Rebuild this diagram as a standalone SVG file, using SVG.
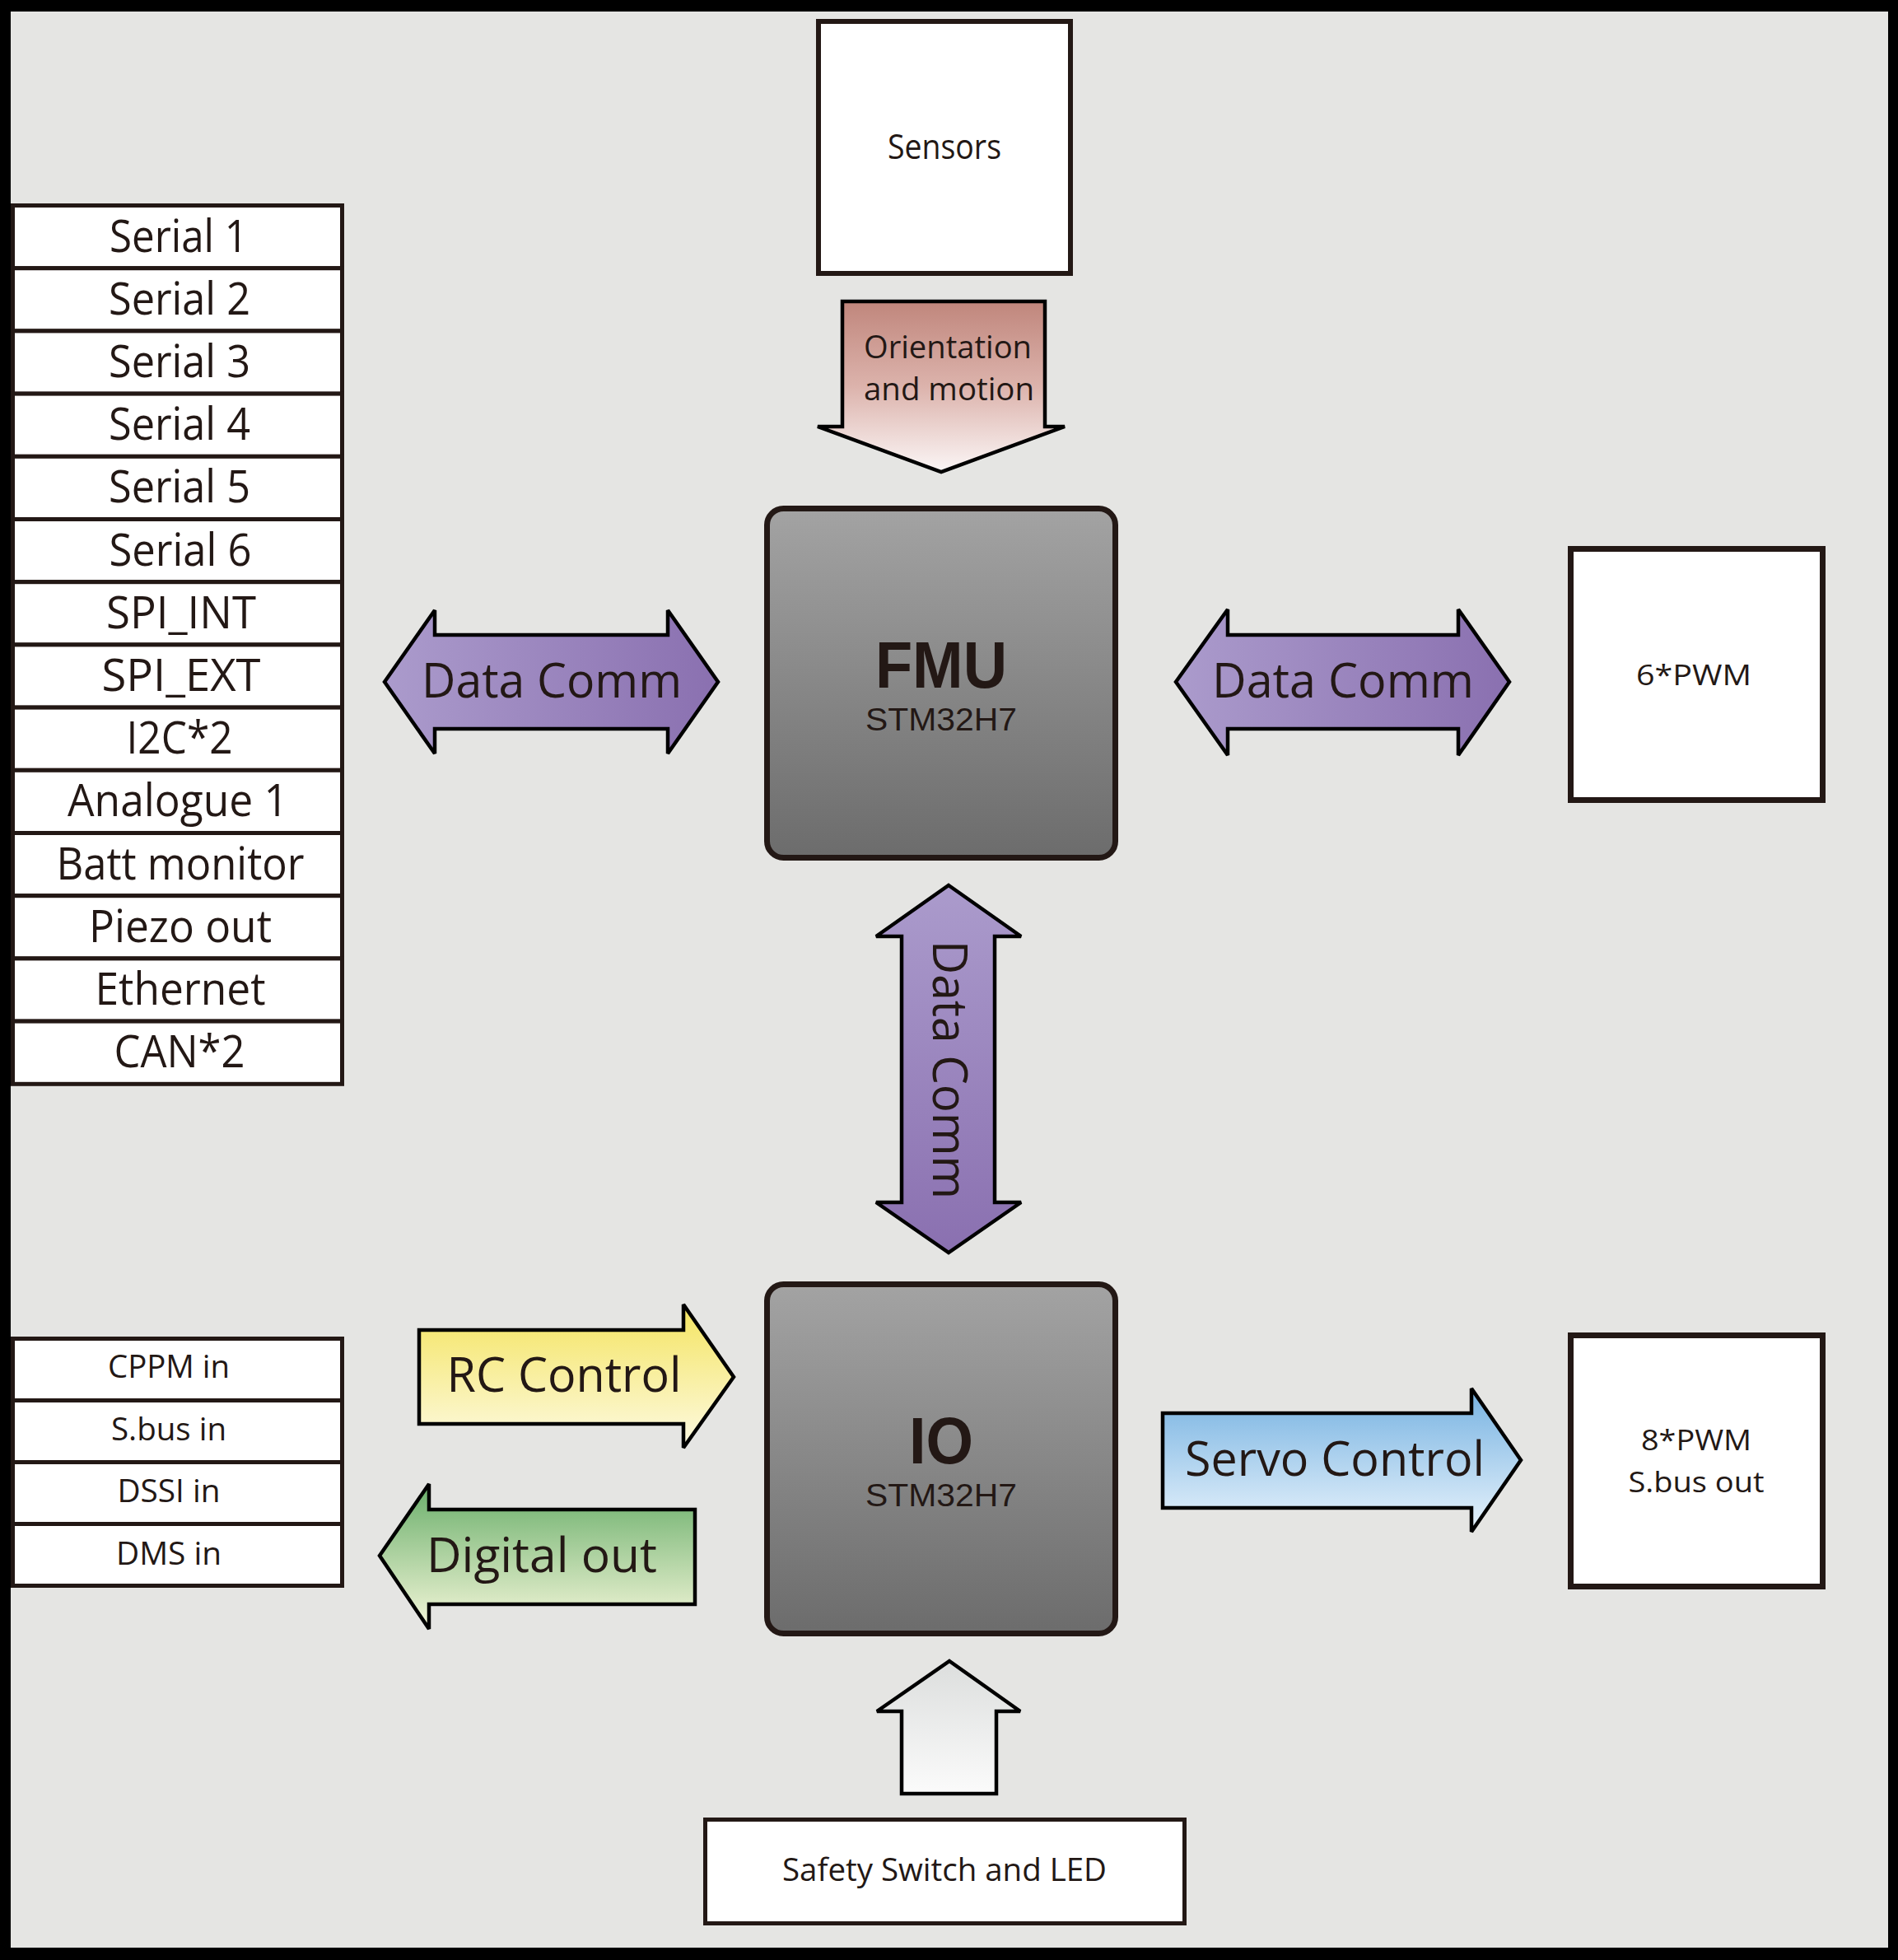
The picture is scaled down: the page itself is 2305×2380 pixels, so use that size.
<svg xmlns="http://www.w3.org/2000/svg" width="2305" height="2380" viewBox="0 0 2305 2380">
<style>
.t{font-family:"Open Sans","Noto Sans","Liberation Sans",sans-serif;fill:#231815;text-anchor:middle}
.tc{font-family:"Liberation Sans","Open Sans",sans-serif;fill:#231815;text-anchor:middle}
.box{fill:#ffffff;stroke:#231815}
.arr{stroke:#000000;stroke-width:4.5;stroke-linejoin:miter;stroke-miterlimit:2.5}
.chip{stroke:#231815;stroke-width:7}
</style>
<defs>
<linearGradient id="gOri" x1="0" y1="0" x2="0" y2="1"><stop offset="0" stop-color="#c0867c"/><stop offset="0.5" stop-color="#dcb3ac"/><stop offset="1" stop-color="#fbf6f6"/></linearGradient>
<linearGradient id="gPurH" x1="0" y1="0" x2="1" y2="0"><stop offset="0" stop-color="#ab9bcc"/><stop offset="1" stop-color="#8a70b0"/></linearGradient>
<linearGradient id="gPurV" x1="0" y1="0" x2="0" y2="1"><stop offset="0" stop-color="#ab9bcc"/><stop offset="1" stop-color="#8a70b0"/></linearGradient>
<linearGradient id="gYel" x1="0" y1="0" x2="0" y2="1"><stop offset="0" stop-color="#f4e460"/><stop offset="1" stop-color="#fdfae2"/></linearGradient>
<linearGradient id="gGrn" x1="0" y1="0" x2="0" y2="1"><stop offset="0" stop-color="#69ae6a"/><stop offset="1" stop-color="#f5f7da"/></linearGradient>
<linearGradient id="gBlu" x1="0" y1="0" x2="0" y2="1"><stop offset="0" stop-color="#76b2e1"/><stop offset="1" stop-color="#e8f3fc"/></linearGradient>
<linearGradient id="gGry" x1="0" y1="0" x2="0" y2="1"><stop offset="0" stop-color="#dcdedd"/><stop offset="1" stop-color="#fbfbfb"/></linearGradient>
<linearGradient id="gChip" x1="0" y1="0" x2="0" y2="1"><stop offset="0" stop-color="#a3a3a3"/><stop offset="1" stop-color="#6c6c6c"/></linearGradient>
</defs>
<rect x="0" y="0" width="2305" height="2380" fill="#000000"/>
<rect x="13" y="14" width="2280" height="2351" fill="#e5e5e3"/>

<g id="connectors">
<g id="arrow-orientation">
<polygon class="arr" fill="url(#gOri)" points="1023,366 1269,366 1269,518 1293,518 1143,573 993,518 1023,518"/>
<text class="t" style="text-anchor:start" x="1049" y="435" font-size="39" textLength="204" lengthAdjust="spacingAndGlyphs">Orientation</text>
<text class="t" style="text-anchor:start" x="1049" y="486" font-size="39" textLength="207" lengthAdjust="spacingAndGlyphs">and motion</text>
</g>
<g id="arrow-datacomm-left">
<polygon class="arr" fill="url(#gPurH)" points="467,828 528,741 528,771 811,771 811,741 872,828 811,915 811,885 528,885 528,915"/>
<text class="t" x="670" y="847" font-size="59" textLength="316" lengthAdjust="spacingAndGlyphs">Data Comm</text>
</g>
<g id="arrow-datacomm-right">
<polygon class="arr" fill="url(#gPurH)" points="1428,828 1491,740 1491,771 1771,771 1771,740 1833,828 1771,917 1771,885 1491,885 1491,917"/>
<text class="t" x="1631" y="847" font-size="59" textLength="318" lengthAdjust="spacingAndGlyphs">Data Comm</text>
</g>
<g id="arrow-datacomm-vertical">
<polygon class="arr" fill="url(#gPurV)" points="1152,1075 1240,1137 1208,1137 1208,1460 1240,1460 1152,1521 1064,1460 1095,1460 1095,1137 1064,1137"/>
<text class="t" transform="translate(1133,1299) rotate(90)" x="0" y="0" font-size="59" textLength="314" lengthAdjust="spacingAndGlyphs">Data Comm</text>
</g>
<g id="arrow-rc">
<polygon class="arr" fill="url(#gYel)" points="509,1615 830,1615 830,1584 891,1672 830,1758 830,1729 509,1729"/>
<text class="t" x="685" y="1690" font-size="59" textLength="285" lengthAdjust="spacingAndGlyphs">RC Control</text>
</g>
<g id="arrow-digital">
<polygon class="arr" fill="url(#gGrn)" points="461,1889 521,1802 521,1833 844,1833 844,1948 521,1948 521,1978"/>
<text class="t" x="658" y="1909" font-size="59" textLength="280" lengthAdjust="spacingAndGlyphs">Digital out</text>
</g>
<g id="arrow-servo">
<polygon class="arr" fill="url(#gBlu)" points="1412,1716 1787,1716 1787,1686 1847,1773 1787,1860 1787,1831 1412,1831"/>
<text class="t" x="1621" y="1792" font-size="59" textLength="364" lengthAdjust="spacingAndGlyphs">Servo Control</text>
</g>
<g id="arrow-safety">
<polygon class="arr" fill="url(#gGry)" points="1153,2017 1239,2078 1210,2078 1210,2178 1095,2178 1095,2078 1065,2078"/>
</g>
</g>

<g id="sensors">
<rect class="box" stroke-width="6" x="994" y="26" width="306" height="306"/>
<text class="t" x="1147" y="193" font-size="42" textLength="138" lengthAdjust="spacingAndGlyphs">Sensors</text>
</g>

<g id="fmu">
<rect class="chip" fill="url(#gChip)" x="931.5" y="617.5" width="423" height="424" rx="20"/>
<text class="tc" x="1143" y="835" font-size="80" font-weight="bold" textLength="160" lengthAdjust="spacingAndGlyphs">FMU</text>
<text class="tc" x="1143" y="887" font-size="39" textLength="184" lengthAdjust="spacingAndGlyphs">STM32H7</text>
</g>

<g id="io">
<rect class="chip" fill="url(#gChip)" x="931.5" y="1559.5" width="423" height="424" rx="20"/>
<text class="tc" x="1143" y="1777" font-size="80" font-weight="bold" textLength="78" lengthAdjust="spacingAndGlyphs">IO</text>
<text class="tc" x="1143" y="1829" font-size="39" textLength="184" lengthAdjust="spacingAndGlyphs">STM32H7</text>
</g>

<g id="pwm6">
<rect class="box" stroke-width="7" x="1907.5" y="666.5" width="306" height="305"/>
<text class="t" x="2057" y="832" font-size="34" textLength="140" lengthAdjust="spacingAndGlyphs">6*PWM</text>
</g>

<g id="pwm8">
<rect class="box" stroke-width="7" x="1907.5" y="1621.5" width="306" height="305"/>
<text class="t" x="2060" y="1761" font-size="34" textLength="134" lengthAdjust="spacingAndGlyphs">8*PWM</text>
<text class="t" x="2060" y="1812" font-size="34" textLength="165" lengthAdjust="spacingAndGlyphs">S.bus out</text>
</g>

<g id="safety">
<rect class="box" stroke-width="5" x="856.5" y="2209.5" width="582" height="126"/>
<text class="t" x="1147" y="2284" font-size="39" textLength="394" lengthAdjust="spacingAndGlyphs">Safety Switch and LED</text>
</g>

<g id="fmu-ports">
<g id="port-serial1"><rect class="box" stroke-width="5" x="15.5" y="249.5" width="400" height="76.2"/><text class="t" x="217" y="305.5" font-size="54" textLength="168" lengthAdjust="spacingAndGlyphs">Serial 1</text></g>
<g id="port-serial2"><rect class="box" stroke-width="5" x="15.5" y="325.7" width="400" height="76.2"/><text class="t" x="218" y="381.7" font-size="54" textLength="172" lengthAdjust="spacingAndGlyphs">Serial 2</text></g>
<g id="port-serial3"><rect class="box" stroke-width="5" x="15.5" y="401.9" width="400" height="76.2"/><text class="t" x="218" y="457.9" font-size="54" textLength="172" lengthAdjust="spacingAndGlyphs">Serial 3</text></g>
<g id="port-serial4"><rect class="box" stroke-width="5" x="15.5" y="478.1" width="400" height="76.2"/><text class="t" x="218" y="534.1" font-size="54" textLength="172" lengthAdjust="spacingAndGlyphs">Serial 4</text></g>
<g id="port-serial5"><rect class="box" stroke-width="5" x="15.5" y="554.3" width="400" height="76.2"/><text class="t" x="218" y="610.3" font-size="54" textLength="172" lengthAdjust="spacingAndGlyphs">Serial 5</text></g>
<g id="port-serial6"><rect class="box" stroke-width="5" x="15.5" y="630.5" width="400" height="76.2"/><text class="t" x="219" y="686.5" font-size="54" textLength="173" lengthAdjust="spacingAndGlyphs">Serial 6</text></g>
<g id="port-spiint"><rect class="box" stroke-width="5" x="15.5" y="706.7" width="400" height="76.2"/><text class="t" x="220" y="762.7" font-size="54" textLength="182" lengthAdjust="spacingAndGlyphs">SPI_INT</text></g>
<g id="port-spiext"><rect class="box" stroke-width="5" x="15.5" y="782.9" width="400" height="76.2"/><text class="t" x="220" y="838.9" font-size="54" textLength="193" lengthAdjust="spacingAndGlyphs">SPI_EXT</text></g>
<g id="port-i2c"><rect class="box" stroke-width="5" x="15.5" y="859.1" width="400" height="76.2"/><text class="t" x="218" y="915.1" font-size="54" textLength="129" lengthAdjust="spacingAndGlyphs">I2C*2</text></g>
<g id="port-analogue"><rect class="box" stroke-width="5" x="15.5" y="935.3" width="400" height="76.2"/><text class="t" x="216" y="991.3" font-size="54" textLength="268" lengthAdjust="spacingAndGlyphs">Analogue 1</text></g>
<g id="port-batt"><rect class="box" stroke-width="5" x="15.5" y="1011.5" width="400" height="76.2"/><text class="t" x="219" y="1067.5" font-size="54" textLength="301" lengthAdjust="spacingAndGlyphs">Batt monitor</text></g>
<g id="port-piezo"><rect class="box" stroke-width="5" x="15.5" y="1087.7" width="400" height="76.2"/><text class="t" x="219" y="1143.7" font-size="54" textLength="222" lengthAdjust="spacingAndGlyphs">Piezo out</text></g>
<g id="port-ethernet"><rect class="box" stroke-width="5" x="15.5" y="1163.9" width="400" height="76.2"/><text class="t" x="219" y="1219.9" font-size="54" textLength="207" lengthAdjust="spacingAndGlyphs">Ethernet</text></g>
<g id="port-can"><rect class="box" stroke-width="5" x="15.5" y="1240.1" width="400" height="76.2"/><text class="t" x="218" y="1296.1" font-size="54" textLength="159" lengthAdjust="spacingAndGlyphs">CAN*2</text></g>
</g>

<g id="rc-inputs">
<g id="in-cppm"><rect class="box" stroke-width="5" x="15.5" y="1625.5" width="400" height="75"/><text class="t" x="205" y="1673" font-size="38" textLength="148" lengthAdjust="spacingAndGlyphs">CPPM in</text></g>
<g id="in-sbus"><rect class="box" stroke-width="5" x="15.5" y="1700.5" width="400" height="75"/><text class="t" x="205" y="1749" font-size="38" textLength="140" lengthAdjust="spacingAndGlyphs">S.bus in</text></g>
<g id="in-dssi"><rect class="box" stroke-width="5" x="15.5" y="1775.5" width="400" height="75"/><text class="t" x="205" y="1824" font-size="38" textLength="125" lengthAdjust="spacingAndGlyphs">DSSI in</text></g>
<g id="in-dms"><rect class="box" stroke-width="5" x="15.5" y="1850.5" width="400" height="75"/><text class="t" x="205" y="1900" font-size="38" textLength="128" lengthAdjust="spacingAndGlyphs">DMS in</text></g>
</g>
</svg>
